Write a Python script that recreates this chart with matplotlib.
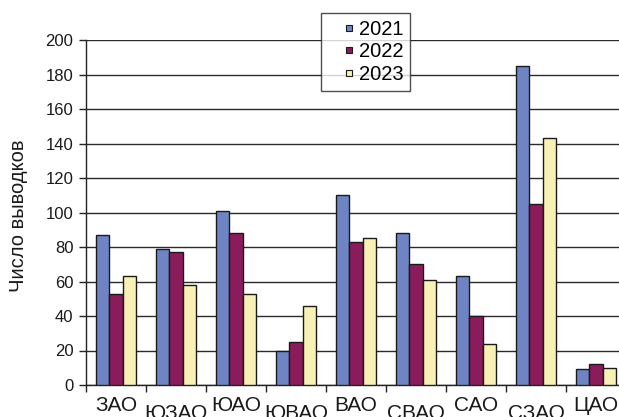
import matplotlib
matplotlib.use("Agg")
import matplotlib.pyplot as plt
from matplotlib.lines import Line2D
import numpy as np

plt.rcParams['font.family'] = ['Liberation Sans', 'DejaVu Sans']

districts = ["ЗАО", "ЮЗАО", "ЮАО", "ЮВАО", "ВАО", "СВАО", "САО", "СЗАО", "ЦАО"]
years = ["2021", "2022", "2023"]
v2021 = [87, 79, 101, 20, 110, 88, 63, 185, 9]
v2022 = [53, 77, 88, 25, 83, 70, 40, 105, 12]
v2023 = [63, 58, 53, 46, 85, 61, 24, 143, 10]
colors = ["#6f84c4", "#8a1c5c", "#f8f1b6"]

W, H = 619, 417
fig = plt.figure(figsize=(W / 100, H / 100), dpi=100)
ax = fig.add_axes([86 / W, 1 - 385 / H, 1 - 86 / W, 345 / H])

x = np.arange(len(districts))
bw = 0.222
for k, (vals, c, lab) in enumerate(zip([v2021, v2022, v2023], colors, years)):
    ax.bar(x + (k - 1) * bw, vals, width=bw, color=c, edgecolor="#1a1a1a",
           linewidth=1.0, label=lab, zorder=3)

ax.set_ylim(0, 200)
ax.set_xlim(-0.5, -0.5 + (W - 86) / 60)
ax.set_yticks(np.arange(0, 201, 20))
ax.yaxis.grid(True, color="#2a2a2a", linewidth=1.0, zorder=0)
ax.tick_params(axis="y", labelsize=12, length=5, width=1, color="#222222",
               pad=4, labelcolor="#1a1a1a")

# group boundaries as major x ticks, district names placed below in two rows
ax.set_xticks(np.arange(len(districts)) - 0.5)
ax.set_xticklabels([])
ax.tick_params(axis="x", length=5, width=1, color="#222222")
for i, name in enumerate(districts):
    off = -8 if i % 2 == 0 else -14
    ax.annotate(name, xy=(i, 0), xycoords=("data", "axes fraction"),
                xytext=(0, off), textcoords="offset points",
                ha="center", va="top", fontsize=15, color="#1a1a1a",
                annotation_clip=False)

for s in ["top", "right"]:
    ax.spines[s].set_visible(False)
for s in ["left", "bottom"]:
    ax.spines[s].set_color("#222222")
    ax.spines[s].set_linewidth(1.0)

ax.set_ylabel("Число выводков", fontsize=14.5, color="#1a1a1a")
ax.yaxis.set_label_coords(-0.108, 0.49)

handles = [Line2D([], [], linestyle="none", marker="s", markersize=5,
                  markerfacecolor=c, markeredgecolor="#1a1a1a",
                  markeredgewidth=0.8) for c in colors]
leg = fig.legend(handles, years, loc="upper left",
                 bbox_to_anchor=(321 / W, 1 - 13 / H),
                 fontsize=14.5, frameon=True, fancybox=False, handlelength=2.1,
                 handletextpad=-0.55, labelspacing=0.18,
                 borderpad=0.33, borderaxespad=0)
leg.get_frame().set_edgecolor("#222222")
leg.get_frame().set_linewidth(1.0)

fig.savefig("out.png", dpi=100)
